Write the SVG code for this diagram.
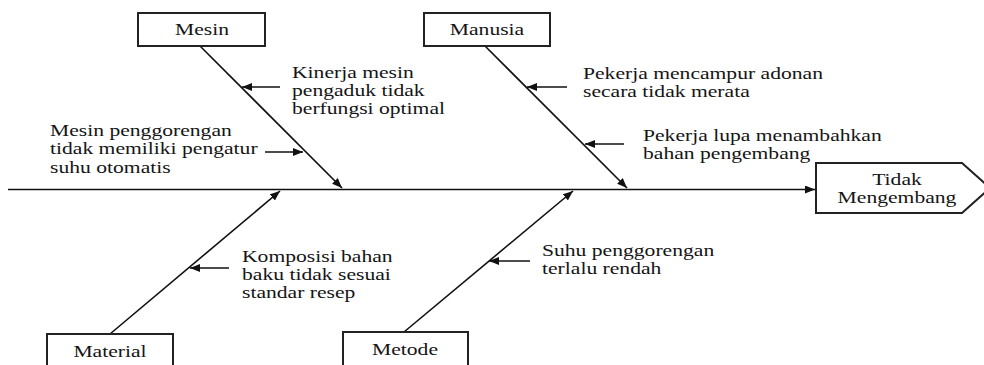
<svg xmlns="http://www.w3.org/2000/svg" width="984" height="365" viewBox="0 0 984 365">
<style>
.box{fill:#fff;stroke:#222;stroke-width:2}
.ln{stroke:#111;stroke-width:1.6;fill:none}
.t{font-family:"Liberation Serif","Times New Roman",serif;font-size:16.5px;fill:#151515}
.c{text-anchor:middle}
</style>
<defs>
<marker id="ah" viewBox="0 0 10 8" refX="10" refY="4" markerWidth="10" markerHeight="8" markerUnits="userSpaceOnUse" orient="auto">
<path d="M0,0 L10,4 L0,8 Z" fill="#111"/>
</marker>
</defs>
<rect width="984" height="365" fill="#fff"/>
<g id="connectors">
<line class="ln" x1="8" y1="189.5" x2="815" y2="189.5" marker-end="url(#ah)"/>
<line class="ln" x1="200" y1="46" x2="342" y2="188" marker-end="url(#ah)"/>
<line class="ln" x1="485" y1="46" x2="627" y2="188" marker-end="url(#ah)"/>
<line class="ln" x1="110" y1="334" x2="280" y2="191" marker-end="url(#ah)"/>
<line class="ln" x1="404" y1="332" x2="573" y2="191" marker-end="url(#ah)"/>
<line class="ln" x1="280" y1="87" x2="242" y2="87" marker-end="url(#ah)"/>
<line class="ln" x1="265" y1="152" x2="303" y2="152" marker-end="url(#ah)"/>
<line class="ln" x1="567" y1="87" x2="527" y2="87" marker-end="url(#ah)"/>
<line class="ln" x1="624" y1="144" x2="585" y2="144" marker-end="url(#ah)"/>
<line class="ln" x1="229" y1="268" x2="190" y2="268" marker-end="url(#ah)"/>
<line class="ln" x1="530" y1="261" x2="489" y2="261" marker-end="url(#ah)"/>
</g>
<g id="mesin">
<rect class="box" x="138" y="13" width="127" height="33"/>
<text class="t c" transform="translate(202,35) scale(1.31,1)">Mesin</text>
</g>
<g id="manusia">
<rect class="box" x="424" y="13" width="126" height="33"/>
<text class="t c" transform="translate(487,35) scale(1.31,1)">Manusia</text>
</g>
<g id="material">
<rect class="box" x="47" y="334" width="126" height="40"/>
<text class="t c" transform="translate(110,357) scale(1.31,1)">Material</text>
</g>
<g id="metode">
<rect class="box" x="343" y="332" width="125" height="40"/>
<text class="t c" transform="translate(405,355) scale(1.31,1)">Metode</text>
</g>
<g id="tidak-mengembang">
<path class="box" d="M816,163 L962,163 L990,188 L962,213 L816,213 Z"/>
<text class="t c" transform="translate(897,185) scale(1.31,1)"><tspan x="0" y="0">Tidak</tspan><tspan x="0" y="18">Mengembang</tspan></text>
</g>
<g id="kinerja">
<text class="t" transform="translate(292,78) scale(1.31,1)"><tspan x="0" y="0">Kinerja mesin</tspan><tspan x="0" y="18">pengaduk tidak</tspan><tspan x="0" y="36">berfungsi optimal</tspan></text>
</g>
<g id="mesin-penggorengan">
<text class="t" transform="translate(50,136) scale(1.31,1)"><tspan x="0" y="0">Mesin penggorengan</tspan><tspan x="0" y="18.5">tidak memiliki pengatur</tspan><tspan x="0" y="37">suhu otomatis</tspan></text>
</g>
<g id="pekerja-mencampur">
<text class="t" transform="translate(583,79) scale(1.31,1)"><tspan x="0" y="0">Pekerja mencampur adonan</tspan><tspan x="0" y="18">secara tidak merata</tspan></text>
</g>
<g id="pekerja-lupa">
<text class="t" transform="translate(643,141) scale(1.31,1)"><tspan x="0" y="0">Pekerja lupa menambahkan</tspan><tspan x="0" y="18">bahan pengembang</tspan></text>
</g>
<g id="komposisi">
<text class="t" transform="translate(242,262) scale(1.31,1)"><tspan x="0" y="0">Komposisi bahan</tspan><tspan x="0" y="18">baku tidak sesuai</tspan><tspan x="0" y="36">standar resep</tspan></text>
</g>
<g id="suhu">
<text class="t" transform="translate(542,256) scale(1.31,1)"><tspan x="0" y="0">Suhu penggorengan</tspan><tspan x="0" y="18">terlalu rendah</tspan></text>
</g>
</svg>
